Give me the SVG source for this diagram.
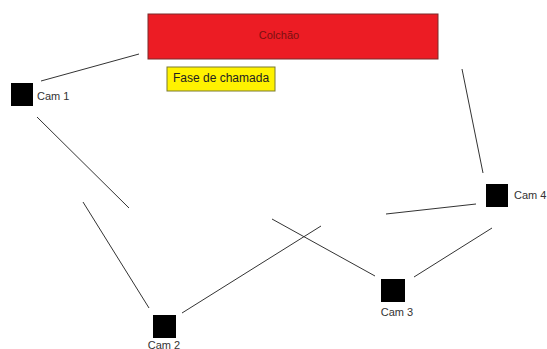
<svg xmlns="http://www.w3.org/2000/svg" width="547" height="349" viewBox="0 0 547 349">
<style>
.cam{fill:#000;}
.lbl{font-family:"Liberation Sans",Arial,sans-serif;font-size:11px;fill:#333;}
.ln{stroke:#333;stroke-width:1;fill:none;}
</style>
<rect width="547" height="349" fill="#fff"/>
<g id="colchao">
<rect x="148" y="14" width="290" height="45" fill="#ec1c24" stroke="#7a2a2a" stroke-width="1"/>
<text x="279" y="39" text-anchor="middle" font-family="Liberation Sans, Arial, sans-serif" font-size="11" fill="#7a1010">Colchão</text>
</g>
<g id="fase">
<rect x="167" y="67" width="108" height="24" fill="#fff200" stroke="#7a7a30" stroke-width="1"/>
<text x="173" y="82" font-family="Liberation Sans, Arial, sans-serif" font-size="12" fill="#222">Fase de chamada</text>
</g>
<g id="cam1">
<rect class="cam" x="11" y="83" width="22" height="23"/>
<text class="lbl" x="37" y="100">Cam 1</text>
</g>
<g id="cam2">
<rect class="cam" x="153" y="315" width="23" height="23"/>
<text class="lbl" x="164" y="348.5" text-anchor="middle">Cam 2</text>
</g>
<g id="cam3">
<rect class="cam" x="381" y="279" width="24" height="23"/>
<text class="lbl" x="397" y="316" text-anchor="middle">Cam 3</text>
</g>
<g id="cam4">
<rect class="cam" x="486" y="184" width="22" height="23"/>
<text class="lbl" x="514" y="199">Cam 4</text>
</g>
<g id="connectors" class="ln">
<line x1="41" y1="81" x2="139" y2="54"/>
<line x1="37" y1="117" x2="129" y2="208"/>
<line x1="83" y1="202" x2="149" y2="308"/>
<line x1="182" y1="313" x2="321" y2="226"/>
<line x1="272" y1="219" x2="375" y2="276"/>
<line x1="414" y1="277" x2="492" y2="228"/>
<line x1="386" y1="214" x2="476" y2="204"/>
<line x1="462" y1="69" x2="483" y2="173"/>
</g>
</svg>
